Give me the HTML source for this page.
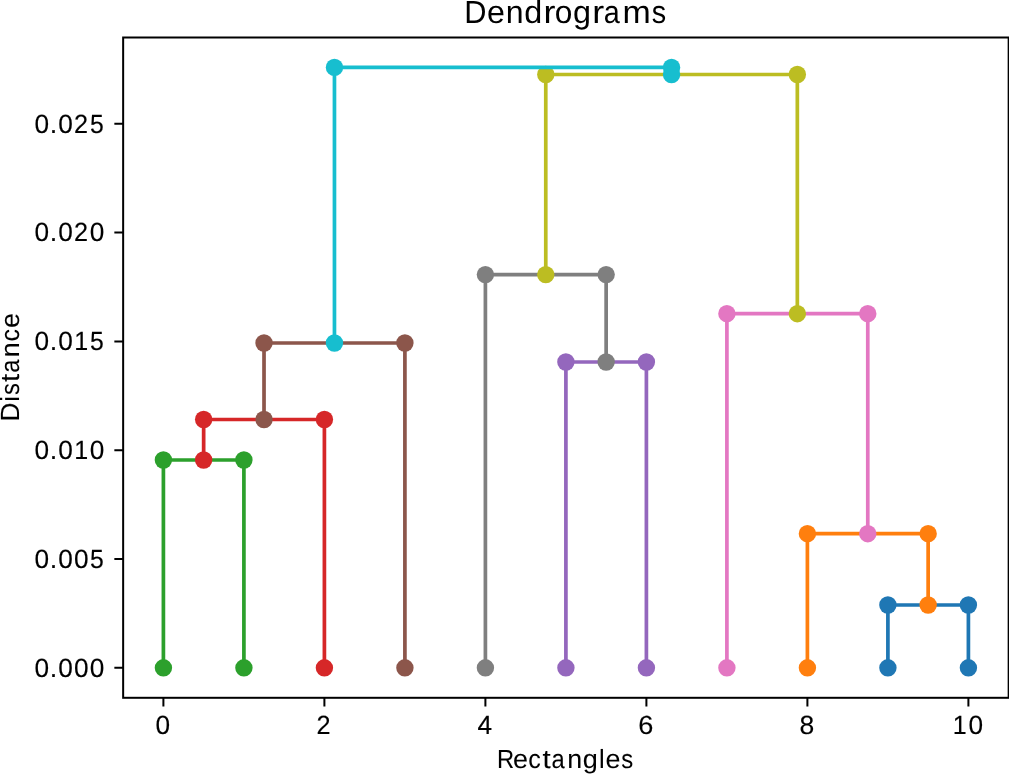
<!DOCTYPE html>
<html><head><meta charset="utf-8"><style>
html,body{margin:0;padding:0;background:#fff;}
svg{display:block;will-change:transform;}
text{font-family:"Liberation Sans",sans-serif;fill:#000;stroke:#000;text-rendering:geometricPrecision;}
.t10 text{stroke-width:0.06px;}
.t12 text{stroke-width:0px;}
.td text{stroke-width:0.15px;}
</style></head><body>
<svg width="1009" height="774" viewBox="0 0 1009 774">
<rect width="1009" height="774" fill="#fff"/>
<polyline points="887.9,667.8 887.9,605 968.4,605 968.4,667.8" fill="none" stroke="#1f77b4" stroke-width="3.7" stroke-linejoin="round" stroke-linecap="square"/>
<circle cx="887.9" cy="667.8" r="8.7" fill="#1f77b4"/>
<circle cx="887.9" cy="605" r="8.7" fill="#1f77b4"/>
<circle cx="968.4" cy="605" r="8.7" fill="#1f77b4"/>
<circle cx="968.4" cy="667.8" r="8.7" fill="#1f77b4"/>
<polyline points="807.4,667.8 807.4,533.7 928.15,533.7 928.15,605" fill="none" stroke="#ff7f0e" stroke-width="3.7" stroke-linejoin="round" stroke-linecap="square"/>
<circle cx="807.4" cy="667.8" r="8.7" fill="#ff7f0e"/>
<circle cx="807.4" cy="533.7" r="8.7" fill="#ff7f0e"/>
<circle cx="928.15" cy="533.7" r="8.7" fill="#ff7f0e"/>
<circle cx="928.15" cy="605" r="8.7" fill="#ff7f0e"/>
<polyline points="163.4,667.8 163.4,460 243.9,460 243.9,667.8" fill="none" stroke="#2ca02c" stroke-width="3.7" stroke-linejoin="round" stroke-linecap="square"/>
<circle cx="163.4" cy="667.8" r="8.7" fill="#2ca02c"/>
<circle cx="163.4" cy="460" r="8.7" fill="#2ca02c"/>
<circle cx="243.9" cy="460" r="8.7" fill="#2ca02c"/>
<circle cx="243.9" cy="667.8" r="8.7" fill="#2ca02c"/>
<polyline points="203.65,460 203.65,419.5 324.4,419.5 324.4,667.8" fill="none" stroke="#d62728" stroke-width="3.7" stroke-linejoin="round" stroke-linecap="square"/>
<circle cx="203.65" cy="460" r="8.7" fill="#d62728"/>
<circle cx="203.65" cy="419.5" r="8.7" fill="#d62728"/>
<circle cx="324.4" cy="419.5" r="8.7" fill="#d62728"/>
<circle cx="324.4" cy="667.8" r="8.7" fill="#d62728"/>
<polyline points="565.9,667.8 565.9,362 646.4,362 646.4,667.8" fill="none" stroke="#9467bd" stroke-width="3.7" stroke-linejoin="round" stroke-linecap="square"/>
<circle cx="565.9" cy="667.8" r="8.7" fill="#9467bd"/>
<circle cx="565.9" cy="362" r="8.7" fill="#9467bd"/>
<circle cx="646.4" cy="362" r="8.7" fill="#9467bd"/>
<circle cx="646.4" cy="667.8" r="8.7" fill="#9467bd"/>
<polyline points="264.02,419.5 264.02,343 404.9,343 404.9,667.8" fill="none" stroke="#8c564b" stroke-width="3.7" stroke-linejoin="round" stroke-linecap="square"/>
<circle cx="264.02" cy="419.5" r="8.7" fill="#8c564b"/>
<circle cx="264.02" cy="343" r="8.7" fill="#8c564b"/>
<circle cx="404.9" cy="343" r="8.7" fill="#8c564b"/>
<circle cx="404.9" cy="667.8" r="8.7" fill="#8c564b"/>
<polyline points="726.9,667.8 726.9,313.7 867.77,313.7 867.77,533.7" fill="none" stroke="#e377c2" stroke-width="3.7" stroke-linejoin="round" stroke-linecap="square"/>
<circle cx="726.9" cy="667.8" r="8.7" fill="#e377c2"/>
<circle cx="726.9" cy="313.7" r="8.7" fill="#e377c2"/>
<circle cx="867.77" cy="313.7" r="8.7" fill="#e377c2"/>
<circle cx="867.77" cy="533.7" r="8.7" fill="#e377c2"/>
<polyline points="485.4,667.8 485.4,274.6 606.15,274.6 606.15,362" fill="none" stroke="#7f7f7f" stroke-width="3.7" stroke-linejoin="round" stroke-linecap="square"/>
<circle cx="485.4" cy="667.8" r="8.7" fill="#7f7f7f"/>
<circle cx="485.4" cy="274.6" r="8.7" fill="#7f7f7f"/>
<circle cx="606.15" cy="274.6" r="8.7" fill="#7f7f7f"/>
<circle cx="606.15" cy="362" r="8.7" fill="#7f7f7f"/>
<polyline points="545.77,274.6 545.77,74.5 797.34,74.5 797.34,313.7" fill="none" stroke="#bcbd22" stroke-width="3.7" stroke-linejoin="round" stroke-linecap="square"/>
<circle cx="545.77" cy="274.6" r="8.7" fill="#bcbd22"/>
<circle cx="545.77" cy="74.5" r="8.7" fill="#bcbd22"/>
<circle cx="797.34" cy="74.5" r="8.7" fill="#bcbd22"/>
<circle cx="797.34" cy="313.7" r="8.7" fill="#bcbd22"/>
<polyline points="334.46,343 334.46,67.4 671.56,67.4 671.56,74.5" fill="none" stroke="#17becf" stroke-width="3.7" stroke-linejoin="round" stroke-linecap="square"/>
<circle cx="334.46" cy="343" r="8.7" fill="#17becf"/>
<circle cx="334.46" cy="67.4" r="8.7" fill="#17becf"/>
<circle cx="671.56" cy="67.4" r="8.7" fill="#17becf"/>
<circle cx="671.56" cy="74.5" r="8.7" fill="#17becf"/>
<rect x="123.15" y="37.5" width="885.5" height="660.3" fill="none" stroke="#000" stroke-width="2.0"/>
<path d="M163.4 697.8V706.6M324.4 697.8V706.6M485.4 697.8V706.6M646.4 697.8V706.6M807.4 697.8V706.6M968.4 697.8V706.6M123.15 667.8H114.35M123.15 559H114.35M123.15 450.2H114.35M123.15 341.4H114.35M123.15 232.6H114.35M123.15 123.8H114.35" stroke="#000" stroke-width="2.0" fill="none"/>
<g class="t12" font-size="32.0"><text transform="translate(464.27,22.70) scale(0.962,1)">D</text><text transform="translate(487.07,22.70) scale(1.005,1)">e</text><text transform="translate(505.68,22.70) scale(1.003,1)">n</text><text transform="translate(524.25,22.70) scale(1.011,1)">d</text><text transform="translate(543.47,22.70) scale(1.120,1)">r</text><text transform="translate(554.75,22.70) scale(0.989,1)">o</text><text transform="translate(572.93,22.70) scale(1.011,1)">g</text><text transform="translate(592.15,22.70) scale(1.120,1)">r</text><text transform="translate(603.81,22.70) scale(0.900,1)">a</text><text transform="translate(622.46,22.70) scale(1.060,1)">m</text><text transform="translate(651.75,22.70) scale(0.900,1)">s</text></g>
<g class="t10" font-size="26.3"><text transform="translate(497.05,767.90) scale(0.905,1)">R</text><text transform="translate(512.96,767.90) scale(1.022,1)">e</text><text transform="translate(528.35,767.90) scale(0.949,1)">c</text><text transform="translate(542.42,767.90) scale(1.120,1)">t</text><text transform="translate(551.62,767.90) scale(0.900,1)">a</text><text transform="translate(567.19,767.90) scale(1.020,1)">n</text><text transform="translate(582.72,767.90) scale(1.028,1)">g</text><text transform="translate(598.91,767.90) scale(0.967,1)">l</text><text transform="translate(605.42,767.90) scale(1.022,1)">e</text><text transform="translate(621.18,767.90) scale(0.907,1)">s</text><text transform="translate(18.90,421.31) rotate(-90) scale(0.979,1)">D</text><text transform="translate(18.90,401.84) rotate(-90) scale(0.967,1)">i</text><text transform="translate(18.90,394.89) rotate(-90) scale(0.907,1)">s</text><text transform="translate(18.90,381.90) rotate(-90) scale(1.120,1)">t</text><text transform="translate(18.90,372.70) rotate(-90) scale(0.900,1)">a</text><text transform="translate(18.90,357.13) rotate(-90) scale(1.020,1)">n</text><text transform="translate(18.90,341.53) rotate(-90) scale(0.949,1)">c</text><text transform="translate(18.90,327.93) rotate(-90) scale(1.022,1)">e</text></g>
<g class="td" font-size="26.3"><text transform="translate(34.40,676.60) scale(0.997,1)">0</text><text transform="translate(49.81,676.60) scale(1.024,1)">.</text><text transform="translate(58.13,676.60) scale(0.997,1)">0</text><text transform="translate(73.96,676.60) scale(0.997,1)">0</text><text transform="translate(89.79,676.60) scale(0.997,1)">0</text><text transform="translate(34.40,567.80) scale(0.997,1)">0</text><text transform="translate(49.81,567.80) scale(1.024,1)">.</text><text transform="translate(58.13,567.80) scale(0.997,1)">0</text><text transform="translate(73.96,567.80) scale(0.997,1)">0</text><text transform="translate(90.11,567.80) scale(0.941,1)">5</text><text transform="translate(34.40,459.00) scale(0.997,1)">0</text><text transform="translate(49.81,459.00) scale(1.024,1)">.</text><text transform="translate(58.13,459.00) scale(0.997,1)">0</text><text transform="translate(74.17,459.00) scale(0.952,1)">1</text><text transform="translate(89.79,459.00) scale(0.997,1)">0</text><text transform="translate(34.40,350.20) scale(0.997,1)">0</text><text transform="translate(49.81,350.20) scale(1.024,1)">.</text><text transform="translate(58.13,350.20) scale(0.997,1)">0</text><text transform="translate(74.17,350.20) scale(0.952,1)">1</text><text transform="translate(90.11,350.20) scale(0.941,1)">5</text><text transform="translate(34.40,241.40) scale(0.997,1)">0</text><text transform="translate(49.81,241.40) scale(1.024,1)">.</text><text transform="translate(58.13,241.40) scale(0.997,1)">0</text><text transform="translate(73.90,241.40) scale(0.961,1)">2</text><text transform="translate(89.79,241.40) scale(0.997,1)">0</text><text transform="translate(34.40,132.60) scale(0.997,1)">0</text><text transform="translate(49.81,132.60) scale(1.024,1)">.</text><text transform="translate(58.13,132.60) scale(0.997,1)">0</text><text transform="translate(73.90,132.60) scale(0.961,1)">2</text><text transform="translate(90.11,132.60) scale(0.941,1)">5</text><text transform="translate(155.62,733.90) scale(0.997,1)">0</text><text transform="translate(316.55,733.90) scale(0.961,1)">2</text><text transform="translate(477.61,733.90) scale(0.997,1)">4</text><text transform="translate(638.36,733.90) scale(1.032,1)">6</text><text transform="translate(799.54,733.90) scale(1.008,1)">8</text><text transform="translate(952.83,733.90) scale(0.952,1)">1</text><text transform="translate(968.44,733.90) scale(0.997,1)">0</text></g>
</svg>
</body></html>
